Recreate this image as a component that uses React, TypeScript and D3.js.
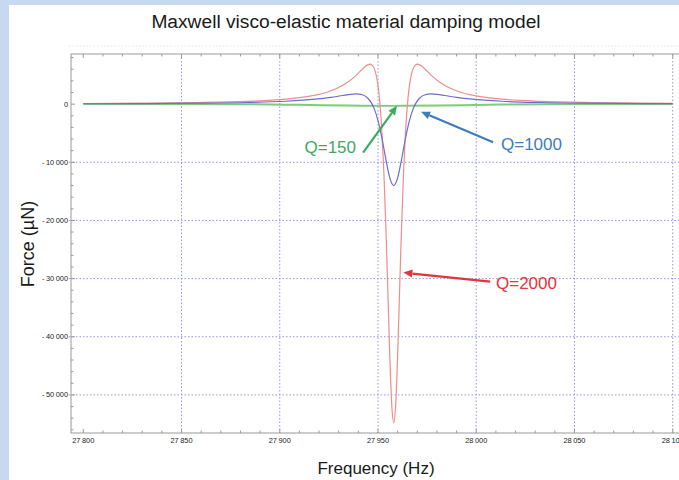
import React, { useEffect, useRef } from 'react';
import * as d3 from 'd3';

const W = 679;
const H = 480;

const titleText = 'Maxwell visco-elastic material damping model';
const xLabelText = 'Frequency (Hz)';
const yLabelText = 'Force (µN)';

const xTicks = [27800, 27850, 27900, 27950, 28000, 28050, 28100];
const yTicks = [0, -10000, -20000, -30000, -40000, -50000];

// Q=2000 (red)
const redFreq = [27800, 27828, 27858, 27883, 27903, 27916, 27924, 27930, 27934, 27938, 27940, 27942, 27944, 27945, 27946, 27947, 27948, 27949, 27950, 27951, 27952, 27953, 27954, 27955, 27956, 27957, 27958, 27959, 27960, 27961, 27962, 27963, 27964, 27965, 27966, 27967, 27968, 27969, 27970, 27971, 27972, 27974, 27976, 27978, 27982, 27986, 27992, 28000, 28013, 28033, 28058, 28088, 28100];
const redForce = [105, 160, 265, 470, 850, 1410, 2050, 2850, 3640, 4690, 5330, 6000, 6600, 6800, 6870, 6710, 6190, 5100, 3170, 0, -4850, -11800, -21050, -32000, -43200, -51700, -54800, -51700, -43200, -32000, -21050, -11800, -4850, 0, 3170, 5100, 6190, 6710, 6870, 6800, 6600, 6000, 5330, 4690, 3640, 2850, 2050, 1410, 850, 470, 265, 160, 133];

// Q=1000 (blue)
const blueFreq = [27800, 27828, 27858, 27883, 27903, 27918, 27926, 27932, 27936, 27939, 27942, 27945, 27947, 27948, 27950, 27952, 27954, 27956, 27958, 27960, 27962, 27964, 27966, 27968, 27969, 27971, 27974, 27977, 27980, 27984, 27990, 27998, 28013, 28033, 28058, 28088, 28100];
const blueForce = [67, 98, 163, 282, 497, 850, 1170, 1480, 1680, 1750, 1610, 970, 0, -730, -2820, -5840, -9480, -12680, -14000, -12680, -9480, -5840, -2820, -730, 0, 970, 1610, 1750, 1680, 1480, 1170, 850, 497, 282, 163, 98, 83];

// Q=150 (green)
const greenFreq = [27800, 27850, 27880, 27910, 27935, 27958, 27980, 28005, 28035, 28070, 28100];
const greenForce = [40, 30, 0, -120, -240, -300, -240, -120, 0, 30, 40];

const fmt = (v: number) => {
  const s = Math.abs(v).toString();
  const grouped = s.length > 3 ? s.slice(0, s.length - 3) + '\u2009' + s.slice(s.length - 3) : s;
  return (v < 0 ? '-\u2009' : '') + grouped;
};

export default function App() {
  const ref = useRef<SVGSVGElement>(null);

  useEffect(() => {
    const svg = d3.select(ref.current);
    svg.selectAll('*').remove();

    const left = 71, right = 685, top = 54, bottom = 433;
    const x = d3.scaleLinear().domain([27793.75, 28106.25]).range([left, right]);
    const y = d3.scaleLinear().domain([8620, -56550]).range([top, bottom]);

    svg.append('rect').attr('width', W).attr('height', H).attr('fill', '#c6d9f1');
    svg.append('rect').attr('x', 9).attr('y', 5).attr('width', W - 9).attr('height', H - 5).attr('fill', '#ffffff');

    const font = 'Liberation Sans, Arial, sans-serif';

    svg.append('text').attr('x', 346).attr('y', 28).attr('text-anchor', 'middle')
      .attr('font-family', font).attr('font-size', 19.2).attr('fill', '#1a1a1a').text(titleText);

    const grid = svg.append('g').attr('stroke', '#9494e4').attr('stroke-width', 1).attr('stroke-dasharray', '1.5 2');
    xTicks.filter(t => t > 27800).forEach(t => {
      grid.append('line').attr('x1', x(t)).attr('x2', x(t)).attr('y1', top).attr('y2', bottom);
    });
    yTicks.filter(t => t < 0).forEach(t => {
      grid.append('line').attr('x1', 69).attr('x2', W).attr('y1', y(t)).attr('y2', y(t));
    });
    grid.append('line').attr('x1', 69).attr('x2', W).attr('y1', y(10000)).attr('y2', y(10000)).attr('opacity', 0.25);

    // frame
    const frame = svg.append('g').attr('stroke', '#9a9a9a').attr('stroke-width', 1).attr('fill', 'none');
    frame.append('rect').attr('x', left).attr('y', top).attr('width', right - left).attr('height', bottom - top);

    const xMinor = d3.range(27800, 28101, 10);
    xMinor.forEach(t => {
      const major = t % 50 === 0;
      const len = major ? 4 : 2.5;
      frame.append('line').attr('x1', x(t)).attr('x2', x(t)).attr('y1', bottom).attr('y2', bottom - len);
      frame.append('line').attr('x1', x(t)).attr('x2', x(t)).attr('y1', top).attr('y2', top + len);
    });
    const yMinor = d3.range(8000, -56001, -2000);
    yMinor.forEach(t => {
      const major = t % 10000 === 0;
      const len = major ? 4 : 2.5;
      frame.append('line').attr('x1', left).attr('x2', left + len).attr('y1', y(t)).attr('y2', y(t));
    });

    const tl = svg.append('g').attr('font-family', font).attr('font-size', 7.4).attr('fill', '#222');
    xTicks.forEach(t => {
      tl.append('text').attr('x', x(t)).attr('y', 443).attr('text-anchor', 'middle').text(fmt(t));
    });
    yTicks.forEach(t => {
      tl.append('text').attr('x', 68).attr('y', y(t) + 2.5).attr('text-anchor', 'end').text(fmt(t));
    });

    svg.append('text').attr('x', 376).attr('y', 474).attr('text-anchor', 'middle')
      .attr('font-family', font).attr('font-size', 17).attr('fill', '#1a1a1a').text(xLabelText);
    svg.append('text').attr('transform', 'translate(34,244) rotate(-90)').attr('text-anchor', 'middle')
      .attr('font-family', font).attr('font-size', 18).attr('fill', '#1a1a1a').text(yLabelText);

    const line = d3.line<[number, number]>().x(d => x(d[0])).y(d => y(d[1])).curve(d3.curveMonotoneX);
    const mk = (fs: number[], vs: number[]) => fs.map((f, i) => [f, vs[i]] as [number, number]);

    svg.append('path').attr('d', line(mk(greenFreq, greenForce))).attr('fill', 'none')
      .attr('stroke', '#7ccc7c').attr('stroke-width', 2);
    svg.append('path').attr('d', line(mk(redFreq, redForce))).attr('fill', 'none')
      .attr('stroke', '#f08c8c').attr('stroke-width', 1.2);
    svg.append('path').attr('d', line(mk(blueFreq, blueForce))).attr('fill', 'none')
      .attr('stroke', '#6c6cd2').attr('stroke-width', 1.2);

    const arrow = (x1: number, y1: number, x2: number, y2: number, color: string) => {
      const ang = Math.atan2(y2 - y1, x2 - x1);
      const hl = 9, hw = 4;
      const bx = x2 - hl * Math.cos(ang), by = y2 - hl * Math.sin(ang);
      svg.append('line').attr('x1', x1).attr('y1', y1).attr('x2', bx).attr('y2', by)
        .attr('stroke', color).attr('stroke-width', 2.2);
      const px = -Math.sin(ang) * hw, py = Math.cos(ang) * hw;
      svg.append('path').attr('d', `M${x2},${y2}L${bx + px},${by + py}L${bx - px},${by - py}Z`).attr('fill', color);
    };

    const green = '#3daa62', blue = '#3e7cba', red = '#e0353a';
    arrow(x(27942.4), y(-8330), x(27959.7), y(-290), green);
    arrow(x(28008.6), y(-6550), x(27971.9), y(-1330), blue);
    arrow(x(28007.1), y(-30520), x(27962.9), y(-28970), red);

    const ann = svg.append('g').attr('font-family', font).attr('font-size', 17);
    ann.append('text').attr('x', 356).attr('y', 153).attr('text-anchor', 'end').attr('fill', green).text('Q=150');
    ann.append('text').attr('x', 501).attr('y', 150).attr('fill', blue).text('Q=1000');
    ann.append('text').attr('x', 496).attr('y', 289).attr('fill', red).text('Q=2000');
  }, []);

  return <svg ref={ref} width={W} height={H} style={{ position: 'absolute', left: 0, top: 0 }} />;
}
